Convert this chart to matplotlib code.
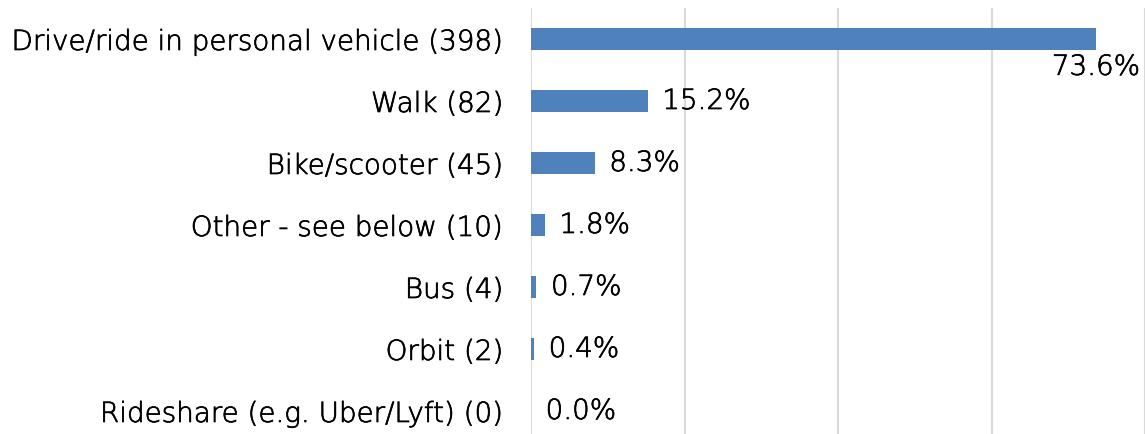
import matplotlib
matplotlib.use("Agg")
import matplotlib.pyplot as plt
import matplotlib.patheffects as pe

categories = ["Drive/ride in personal vehicle (398)", "Walk (82)", "Bike/scooter (45)",
              "Other - see below (10)", "Bus (4)", "Orbit (2)", "Rideshare (e.g. Uber/Lyft) (0)"]
values = [73.6, 15.2, 8.3, 1.8, 0.7, 0.4, 0.0]
labels = ["73.6%", "15.2%", "8.3%", "1.8%", "0.7%", "0.4%", "0.0%"]

plt.rcParams['font.family'] = ['DejaVu Sans']
W, H = 1145, 435
fig = plt.figure(figsize=(W/100, H/100), dpi=100)
left, right, top, bottom = 531, 1145, 9, 443
ax = fig.add_axes([left/W, (H-bottom)/H, (right-left)/W, (bottom-top)/H])

FS = 20
TC = "#000000"
PE = [pe.withStroke(linewidth=0.5, foreground=TC)]
n = len(categories)
ypos = list(range(n))
ax.barh(ypos, values, height=0.36, color="#4F81BD", zorder=3)
ax.set_ylim(n-0.5, -0.5)
ax.set_xlim(0, 80)
ax.set_xticks([0, 20, 40, 60, 80])
ax.set_xticklabels([])
ax.tick_params(axis='x', length=0)
ax.tick_params(axis='y', length=0, pad=20)
ax.set_yticks(ypos)
ax.set_yticklabels(categories, fontsize=FS, color=TC, fontweight='light')
for t in ax.get_yticklabels():
    t.set_path_effects(PE)
ax.grid(axis='x', color="#D9D9D9", linewidth=1.5, zorder=0)
for s in ax.spines.values():
    s.set_visible(False)

for i, (v, lab) in enumerate(zip(values, labels)):
    if i == 0:
        ax.annotate(lab, (v, i), xytext=(0, -10), textcoords='offset points',
                    ha='center', va='top', fontsize=FS, color=TC, fontweight='light',
                    path_effects=PE)
    else:
        ax.annotate(lab, (v, i), xytext=(10.5, 0), textcoords='offset points',
                    ha='left', va='center', fontsize=FS, color=TC, fontweight='light',
                    path_effects=PE)

fig.savefig("out.png", dpi=100)
